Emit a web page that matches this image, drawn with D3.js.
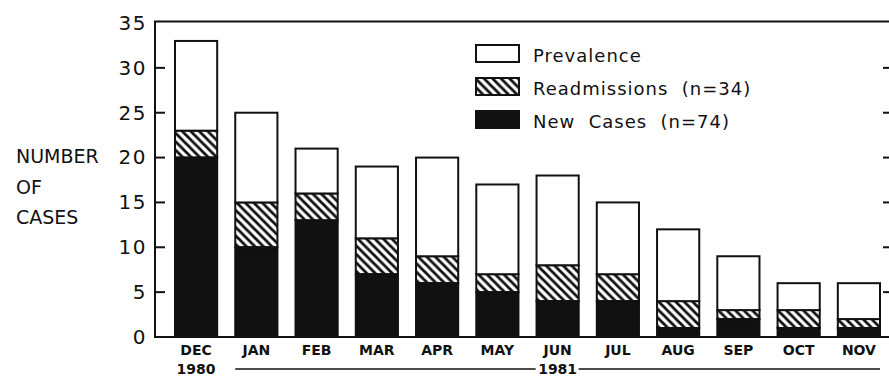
<!DOCTYPE html>
<html>
<head>
<meta charset="utf-8">
<script src="https://d3js.org/d3.v7.min.js"></script>
<style>
  body { margin: 0; background: #fff; }
  svg text { font-family: "DejaVu Sans", sans-serif; fill: #111; }
</style>
</head>
<body>
<div id="my_dataviz"></div>
<script>
// months on the x axis
var months = ["DEC", "JAN", "FEB", "MAR", "APR", "MAY", "JUN", "JUL", "AUG", "SEP", "OCT", "NOV"];
// stacked values, bottom to top
var newCases = [20, 10, 13, 7, 6, 5, 4, 4, 1, 2, 1, 1];
var readmissions = [3, 5, 3, 4, 3, 2, 4, 3, 3, 1, 2, 1];
var prevalence = [10, 10, 5, 8, 11, 10, 10, 8, 8, 6, 3, 4];
var yTicks = [0, 5, 10, 15, 20, 25, 30, 35];
var legendLabels = ["Prevalence", "Readmissions  (n=34)", "New  Cases  (n=74)"];

var W = 889, H = 376;
var frame = {left: 155, right: 891, top: 21.5, bottom: 337};

var svg = d3.select("#my_dataviz").append("svg")
    .attr("width", W)
    .attr("height", H);

// hatch pattern for readmissions
var defs = svg.append("defs");
defs.append("pattern")
    .attr("id", "hatch")
    .attr("patternUnits", "userSpaceOnUse")
    .attr("width", 8.5)
    .attr("height", 8.5)
    .append("path")
    .attr("d", "M-1,-1 L9.5,9.5 M-3,5.5 L3,11.5 M5.5,-3 L11.5,3")
    .attr("stroke", "#111")
    .attr("stroke-width", 2.8);

var x = d3.scaleBand()
    .domain(months)
    .range([175, 880])
    .paddingInner(0.3)
    .paddingOuter(0);

var y = d3.scaleLinear()
    .domain([0, 35])
    .range([frame.bottom, 23]);

// data table for stacking
var table = months.map(function (m, i) {
    return {month: m, newCases: newCases[i], readmissions: readmissions[i], prevalence: prevalence[i]};
});
var stack = d3.stack().keys(["newCases", "readmissions", "prevalence"]);
var series = stack(table);
var fills = {newCases: "#111", readmissions: "url(#hatch)", prevalence: "#fff"};

series.forEach(function (s) {
    svg.append("g").selectAll("rect")
        .data(s)
        .enter()
        .append("rect")
        .attr("x", function (d) { return x(d.data.month); })
        .attr("y", function (d) { return y(d[1]); })
        .attr("width", x.bandwidth())
        .attr("height", function (d) { return y(d[0]) - y(d[1]); })
        .attr("fill", fills[s.key])
        .attr("stroke", "#111")
        .attr("stroke-width", 2);
});

// frame: left, top, bottom
svg.append("path")
    .attr("d", "M" + frame.right + "," + frame.top + " H" + frame.left + " V" + frame.bottom + " H" + frame.right)
    .attr("fill", "none")
    .attr("stroke", "#111")
    .attr("stroke-width", 2);

// left axis with inward ticks
var leftAxis = svg.append("g")
    .attr("transform", "translate(" + frame.left + ",0)")
    .call(d3.axisLeft(y).tickValues(yTicks).tickSize(0).tickPadding(8));
leftAxis.select(".domain").remove();
leftAxis.selectAll("text")
    .style("font-family", "DejaVu Sans")
    .attr("font-size", "20px")
    .attr("letter-spacing", "1.5px")
    .attr("fill", "#111");

var innerTicks = yTicks.filter(function (t) { return t > 0 && t < 35; });
svg.append("g").selectAll("line")
    .data(innerTicks)
    .enter()
    .append("line")
    .attr("x1", frame.left)
    .attr("x2", frame.left + 10)
    .attr("y1", function (d) { return y(d); })
    .attr("y2", function (d) { return y(d); })
    .attr("stroke", "#111")
    .attr("stroke-width", 2);
svg.append("g").selectAll("line")
    .data(innerTicks)
    .enter()
    .append("line")
    .attr("x1", 883)
    .attr("x2", 889)
    .attr("y1", function (d) { return y(d); })
    .attr("y2", function (d) { return y(d); })
    .attr("stroke", "#111")
    .attr("stroke-width", 2);

// bottom axis labels
var bottomAxis = svg.append("g")
    .attr("transform", "translate(0," + frame.bottom + ")")
    .call(d3.axisBottom(x).tickSize(0).tickPadding(8));
bottomAxis.select(".domain").remove();
bottomAxis.selectAll("text")
    .style("font-family", "DejaVu Sans")
    .attr("font-size", "14px")
    .attr("font-weight", "bold")
    .attr("fill", "#111");

// year labels
svg.append("text")
    .attr("x", x("DEC") + x.bandwidth() / 2)
    .attr("y", 374)
    .attr("text-anchor", "middle")
    .attr("font-size", "14px")
    .attr("font-weight", "bold")
    .text("1980");
var yearX = x("JUN") + x.bandwidth() / 2;
svg.append("text")
    .attr("x", yearX)
    .attr("y", 374)
    .attr("text-anchor", "middle")
    .attr("font-size", "14px")
    .attr("font-weight", "bold")
    .text("1981");
svg.append("line")
    .attr("x1", x("JAN")).attr("x2", yearX - 22)
    .attr("y1", 369).attr("y2", 369)
    .attr("stroke", "#111").attr("stroke-width", 1.3);
svg.append("line")
    .attr("x1", yearX + 21).attr("x2", x("NOV") + x.bandwidth())
    .attr("y1", 369).attr("y2", 369)
    .attr("stroke", "#111").attr("stroke-width", 1.3);

// y axis title
["NUMBER", "OF", "CASES"].forEach(function (t, i) {
    svg.append("text")
        .attr("x", 16)
        .attr("y", 163 + i * 30.5)
        .attr("font-size", "19px")
        .text(t);
});

// legend
var legendFills = ["#fff", "url(#hatch)", "#111"];
var legend = svg.append("g").attr("transform", "translate(476,45)");
legendLabels.forEach(function (lab, i) {
    legend.append("rect")
        .attr("x", 0)
        .attr("y", i * 33)
        .attr("width", 43)
        .attr("height", 17)
        .attr("fill", legendFills[i])
        .attr("stroke", "#111")
        .attr("stroke-width", 2);
    legend.append("text")
        .attr("x", 57)
        .attr("y", i * 33 + 17)
        .attr("font-size", "18px")
        .attr("letter-spacing", "1px")
        .style("white-space", "pre")
        .text(lab);
});
</script>
</body>
</html>
